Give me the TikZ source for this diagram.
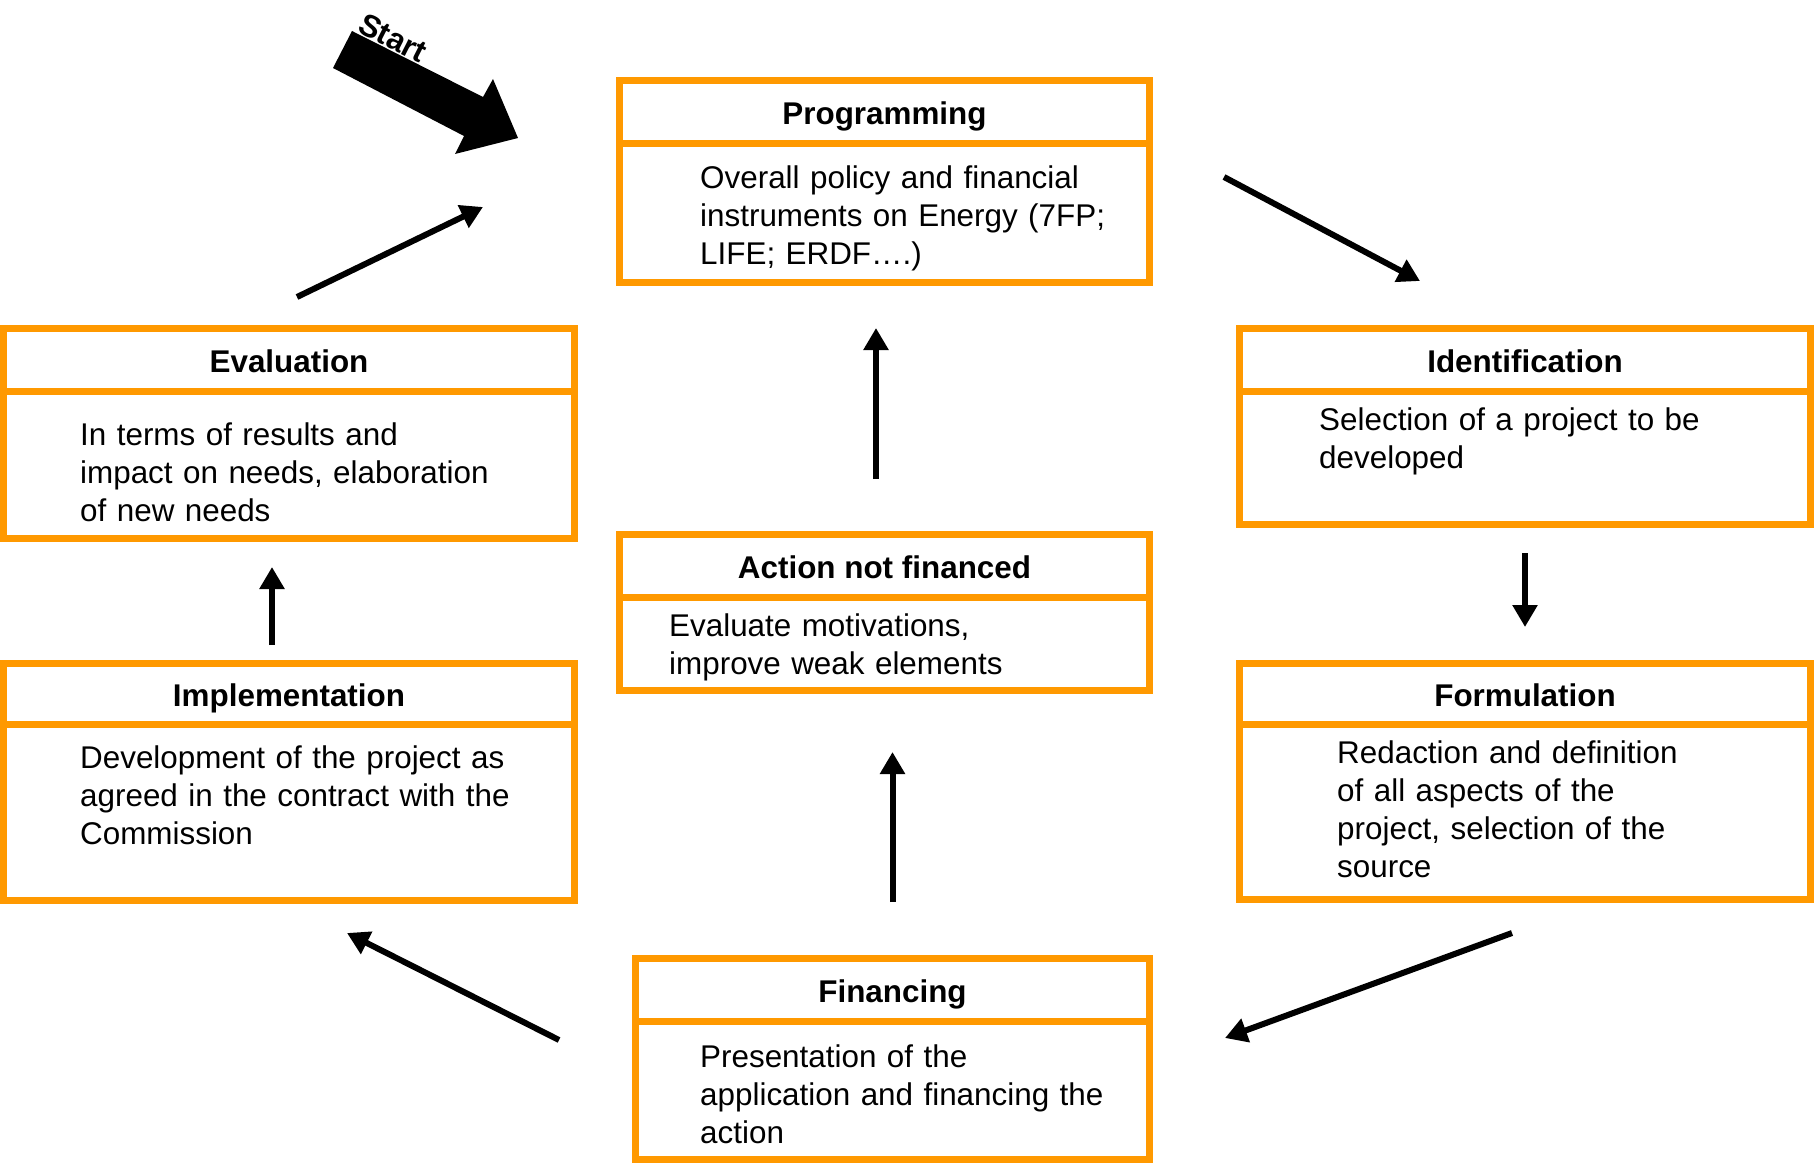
\documentclass[tikz,border=0pt]{standalone}
\usepackage{fontspec}
\setmainfont{Liberation Sans}
\usepackage{tikz}
\usetikzlibrary{arrows.meta}

\begin{document}
\begin{tikzpicture}[x=1pt,y=-1pt,
  phasetitle/.style={draw=phaseorange,line width=7pt,outer sep=0pt,inner sep=0pt,
    text height=27pt,text depth=2pt,font=\fontsize{31.4pt}{38pt}\selectfont\bfseries},
  phasebody/.style={draw=phaseorange,line width=7pt,outer sep=0pt,inner sep=0pt},
  phasetext/.style={anchor=base west,inner sep=0pt,text width=520pt,align=left,
    font=\fontsize{31.4pt}{38pt}\selectfont},
  flow/.style={-{Triangle[width=24pt,length=22pt]},line width=6pt}]
% Define colours
\definecolor{phaseorange}{RGB}{255,153,0}
\useasboundingbox (0,0) rectangle (1814,1166);

% Draw the phase boxes (title band + body)
\node[phasetitle,minimum width=530pt,minimum height=63.5pt] (prog-t) at (884.5,112.25) {Programming};
\node[phasebody,minimum width=530pt,minimum height=138.5pt] (prog) at (884.5,213.25) {};

\node[phasetitle,minimum width=571pt,minimum height=62.5pt] (ident-t) at (1525,359.75) {Identification};
\node[phasebody,minimum width=571pt,minimum height=133.5pt] (ident) at (1525,457.75) {};

\node[phasetitle,minimum width=571pt,minimum height=61pt] (form-t) at (1525,693.5) {Formulation};
\node[phasebody,minimum width=571pt,minimum height=175pt] (form) at (1525,811.5) {};

\node[phasetitle,minimum width=514pt,minimum height=62.5pt] (fin-t) at (892.5,989.75) {Financing};
\node[phasebody,minimum width=514pt,minimum height=138.5pt] (fin) at (892.5,1090.25) {};

\node[phasetitle,minimum width=530pt,minimum height=62.5pt] (action-t) at (884.5,565.75) {Action not financed};
\node[phasebody,minimum width=530pt,minimum height=93.5pt] (action) at (884.5,643.75) {};

\node[phasetitle,minimum width=571pt,minimum height=61pt] (impl-t) at (289,693.5) {Implementation};
\node[phasebody,minimum width=571pt,minimum height=176pt] (impl) at (289,812) {};

\node[phasetitle,minimum width=571pt,minimum height=62.5pt] (eval-t) at (289,359.75) {Evaluation};
\node[phasebody,minimum width=571pt,minimum height=147.5pt] (eval) at (289,464.75) {};

% Body texts
\node[phasetext] (prog-x) at (700,189) {Overall policy and financial\\instruments on Energy (7FP;\\LIFE; ERDF….)};
\node[phasetext] (ident-x) at (1319,430) {Selection of a project to be\\developed};
\node[phasetext] (form-x) at (1337,763) {Redaction and definition\\of all aspects of the\\project, selection of the\\source};
\node[phasetext] (fin-x) at (700,1067) {Presentation of the\\application and financing the\\action};
\node[phasetext] (action-x) at (669,636) {Evaluate motivations,\\improve weak elements};
\node[phasetext] (impl-x) at (80,768) {Development of the project as\\agreed in the contract with the\\Commission};
\node[phasetext] (eval-x) at (80,445) {In terms of results and\\impact on needs, elaboration\\of new needs};

% Start arrow
\fill (352,31) -- (483,97) -- (493,79) -- (518,138) -- (455,154) -- (464,136) -- (333,68) -- cycle;
\node[anchor=base west,rotate=-27,inner sep=0pt,font=\fontsize{31.4pt}{38pt}\selectfont\bfseries] (start) at (356,31) {Start};

% Free ends of the diagonal arrows
\coordinate (eval-out) at (297,297);
\coordinate (prog-in) at (483,207);
\coordinate (prog-out) at (1224,177);
\coordinate (ident-in) at (1420,281);
\coordinate (form-out) at (1512,933);
\coordinate (fin-in) at (1225,1038);
\coordinate (fin-out) at (559,1040);
\coordinate (impl-in) at (347,933);

% Cycle arrows
\draw[flow] (eval-out) -- (prog-in);
\draw[flow] (prog-out) -- (ident-in);
\draw[flow,shorten <=28.5pt,shorten >=36pt] (ident.south) -- (form-t.north);
\draw[flow] (form-out) -- (fin-in);
\draw[flow] (fin-out) -- (impl-in);
\draw[flow,shorten <=18pt,shorten >=28.5pt] ([xshift=-17pt]impl-t.north) -- ([xshift=-17pt]eval.south);
\draw[flow,shorten <=56.5pt,shorten >=61.5pt] (fin-t.north) -- (fin-t.north |- action.south);
\draw[flow,shorten <=55.5pt,shorten >=45.5pt] ([xshift=-8.5pt]action-t.north) -- ([xshift=-8.5pt]prog.south);
\end{tikzpicture}
\end{document}
